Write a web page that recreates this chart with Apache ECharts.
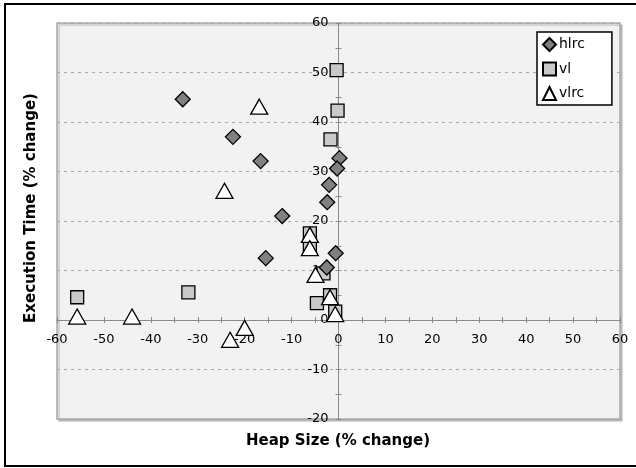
<!DOCTYPE html>
<html>
<head>
<meta charset="utf-8">
<script src="https://cdn.jsdelivr.net/npm/echarts@6/dist/echarts.min.js"></script>
<style>
html,body{margin:0;padding:0;background:#fff;}
#c{width:636px;height:468px;}
</style>
</head>
<body>
<div id="c"></div>
<script>
var xTitle = 'Heap Size (% change)';
var yTitle = 'Execution Time (% change)';
var seriesNames = ['hlrc', 'vl', 'vlrc'];

var hlrcX = [-33.2, -22.5, -16.6, -12.0, -15.5, 0.2, -0.3, -2.0, -2.4, -0.6, -2.5];
var hlrcY = [44.6, 37.0, 32.1, 21.0, 12.5, 32.7, 30.6, 27.3, 23.8, 13.5, 10.6];

var vlX = [-0.4, -0.2, -1.7, -6.1, -6.1, -3.2, -4.6, -1.8, -0.7, -55.7, -32.0];
var vlY = [50.5, 42.3, 36.5, 17.5, 14.8, 9.4, 3.4, 5.0, 1.7, 4.6, 5.6];

var vlrcX = [-16.9, -24.3, -55.7, -44.0, -20.0, -23.1, -6.1, -6.1, -4.9, -1.8, -0.7];
var vlrcY = [43.1, 26.1, 0.7, 0.7, -1.6, -4.0, 17.2, 14.5, 9.1, 4.6, 1.2];

function pairs(xs, ys) { return xs.map(function (x, i) { return [x, ys[i]]; }); }

var font = '"DejaVu Sans", Verdana, sans-serif';
var chart = echarts.init(document.getElementById('c'), null, {renderer: 'canvas'});

var gridLeft = 57, gridRight = 16, gridTop = 23, gridBottom = 49;
var W = 636, H = 468;
var gw = W - gridLeft - gridRight, gh = H - gridTop - gridBottom;
var xMin = -60, xMax = 60, yMin = -20, yMax = 60;
// place the axes where the other axis has value 0 (axis crossing)
var yAxisOffset = -gw * (0 - xMin) / (xMax - xMin);
var xAxisOffset = -gh * (0 - yMin) / (yMax - yMin);

var tickColor = '#8a8a8a';
var axisCommon = {
  type: 'value',
  interval: 10,
  axisLine: {show: true, onZero: false, lineStyle: {color: tickColor, width: 1}},
  axisTick: {show: true, length: 3, lineStyle: {color: tickColor}},
  minorTick: {show: true, splitNumber: 2, length: 3, lineStyle: {color: tickColor}},
  axisLabel: {color: '#000', fontSize: 13, fontFamily: font, showMinLabel: true, showMaxLabel: true}
};
// companion axes only draw the inner half of the crossing tick marks
var innerTicks = {
  type: 'value', interval: 10,
  axisLine: {show: false, onZero: false},
  axisTick: {show: true, inside: true, length: 3, lineStyle: {color: tickColor}},
  minorTick: {show: true, splitNumber: 2, length: 3, lineStyle: {color: tickColor}},
  axisLabel: {show: false},
  splitLine: {show: false}
};

chart.setOption({
  animation: false,
  backgroundColor: '#fff',
  textStyle: {fontFamily: font},
  grid: {
    left: gridLeft, right: gridRight, top: gridTop, bottom: gridBottom,
    show: true, backgroundColor: '#f2f2f2', borderColor: '#a8a8a8', borderWidth: 1.5,
    shadowColor: 'rgba(0,0,0,0.18)', shadowOffsetX: 2, shadowOffsetY: 2, shadowBlur: 1
  },
  xAxis: [
    Object.assign({}, axisCommon, {
      min: xMin, max: xMax, position: 'bottom', offset: xAxisOffset,
      splitLine: {show: false},
      axisLabel: Object.assign({}, axisCommon.axisLabel, {margin: 13})
    }),
    Object.assign({}, innerTicks, {min: xMin, max: xMax, position: 'bottom', offset: xAxisOffset})
  ],
  yAxis: [
    Object.assign({}, axisCommon, {
      min: yMin, max: yMax, position: 'left', offset: yAxisOffset,
      splitLine: {show: true, lineStyle: {color: '#aaaaaa', type: [3, 4], width: 1}},
      axisLabel: Object.assign({}, axisCommon.axisLabel, {margin: 10})
    }),
    Object.assign({}, innerTicks, {min: yMin, max: yMax, position: 'left', offset: yAxisOffset})
  ],
  legend: {
    orient: 'vertical',
    left: 537, top: 32,
    backgroundColor: '#fff',
    borderColor: '#000',
    borderWidth: 1.5,
    borderRadius: 0,
    padding: [5, 27, 4, 5],
    itemWidth: 13, itemHeight: 13, itemGap: 9.5,
    textStyle: {fontSize: 14, color: '#000', fontFamily: font, padding: [0, 0, 0, -2]},
    data: seriesNames
  },
  series: [
    {
      name: seriesNames[0], type: 'scatter', symbol: 'diamond', symbolSize: 15,
      xAxisIndex: 0, yAxisIndex: 0,
      itemStyle: {color: '#808080', borderColor: '#000', borderWidth: 1.3, opacity: 1},
      data: pairs(hlrcX, hlrcY), z: 3
    },
    {
      name: seriesNames[1], type: 'scatter', symbol: 'rect', symbolSize: 13,
      xAxisIndex: 0, yAxisIndex: 0,
      itemStyle: {color: '#c9c9c9', borderColor: '#000', borderWidth: 1.3, opacity: 1},
      data: pairs(vlX, vlY), z: 2
    },
    {
      name: seriesNames[2], type: 'scatter', symbol: 'triangle', symbolSize: [17, 15],
      xAxisIndex: 0, yAxisIndex: 0,
      itemStyle: {color: '#fff', borderColor: '#000', borderWidth: 1.3, opacity: 1},
      data: pairs(vlrcX, vlrcY), z: 4
    }
  ],
  graphic: [
    {
      type: 'rect', silent: true, z: 100,
      shape: {x: 5, y: 4, width: 650, height: 462},
      style: {fill: 'none', stroke: '#000', lineWidth: 2}
    },
    {
      type: 'text', silent: true, z: 100,
      x: 338, y: 441,
      style: {text: xTitle, font: 'bold 15px ' + font, fill: '#000', align: 'center', verticalAlign: 'middle'}
    },
    {
      type: 'text', silent: true, z: 100,
      x: 31, y: 208, rotation: Math.PI / 2,
      style: {text: yTitle, font: 'bold 15px ' + font, fill: '#000', align: 'center', verticalAlign: 'middle'}
    }
  ]
});
</script>
</body>
</html>
